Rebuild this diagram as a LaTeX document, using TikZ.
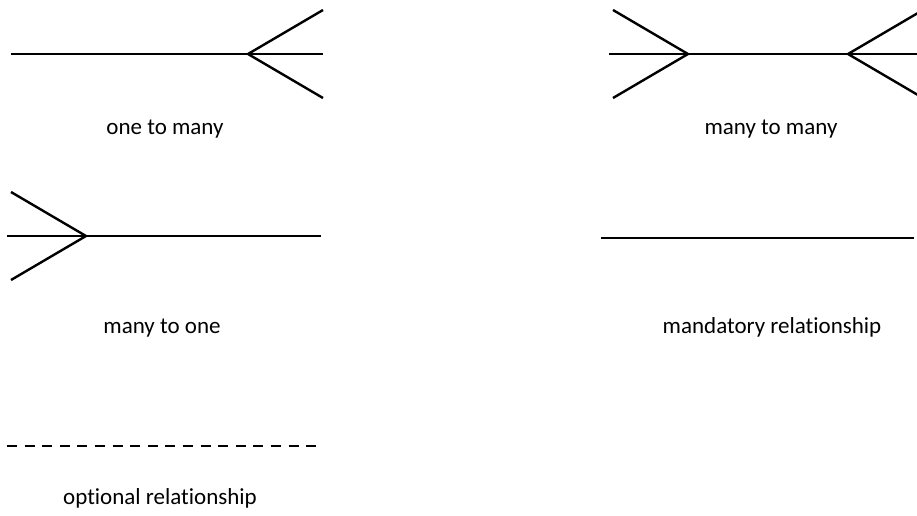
\documentclass[tikz,border=0pt]{standalone}
\usepackage{fontspec}
\setmainfont{Carlito}[Ligatures={NoCommon}]
\usetikzlibrary{positioning}

\begin{document}
\begin{tikzpicture}[x=1pt,y=-1pt]
	\tikzset {rel/.style={line width=2.4pt}, optrel/.style={rel, dash pattern=on 10pt off 7.6pt},
		caption/.style={anchor=base, inner sep=0pt, font=\fontsize{23}{28}\selectfont} }
	\useasboundingbox (0,0) rectangle (917,515);

	% one to many
	\coordinate (om0) at (11,54);
	\coordinate (om1) at (248,54);
	\coordinate (om2) at (323,54);
	\coordinate (omt) at (323,10);
	\coordinate (omb) at (323,98);
	\draw[rel] (om0) -- (om2);
	\draw[rel] (omt) -- (om1) -- (omb);
	\node[caption] (omlab) at (165,134) {one to many};

	% many to many
	\coordinate (mm0) at (609,54);
	\coordinate (mm1) at (688,54);
	\coordinate (mm2) at (848,54);
	\coordinate (mm3) at (917,54);
	\coordinate (mmlt) at (613,10);
	\coordinate (mmlb) at (613,98);
	\coordinate (mmrt) at (923,10);
	\coordinate (mmrb) at (923,98);
	\draw[rel] (mm0) -- (mm3);
	\draw[rel] (mmlt) -- (mm1) -- (mmlb);
	\draw[rel] (mmrt) -- (mm2) -- (mmrb);
	\node[caption] (mmlab) at (771,134) {many to many};

	% many to one
	\coordinate (mo0) at (7,236);
	\coordinate (mo1) at (86,236);
	\coordinate (mo2) at (321,236);
	\coordinate (mot) at (11,192);
	\coordinate (mob) at (11,280);
	\draw[rel] (mo0) -- (mo2);
	\draw[rel] (mot) -- (mo1) -- (mob);
	\node[caption] (molab) at (162,333) {many to one};

	% mandatory
	\coordinate (md0) at (601,238);
	\coordinate (md1) at (914,238);
	\draw[rel] (md0) -- (md1);
	\node[caption] (mdlab) at (772,333) {mandatory relationship};

	% optional
	\coordinate (op0) at (7,446);
	\coordinate (op1) at (318,446);
	\draw[optrel] (op0) -- (op1);
	\node[caption] (oplab) at (160,504) {optional relationship};
\end{tikzpicture}
\end{document}
